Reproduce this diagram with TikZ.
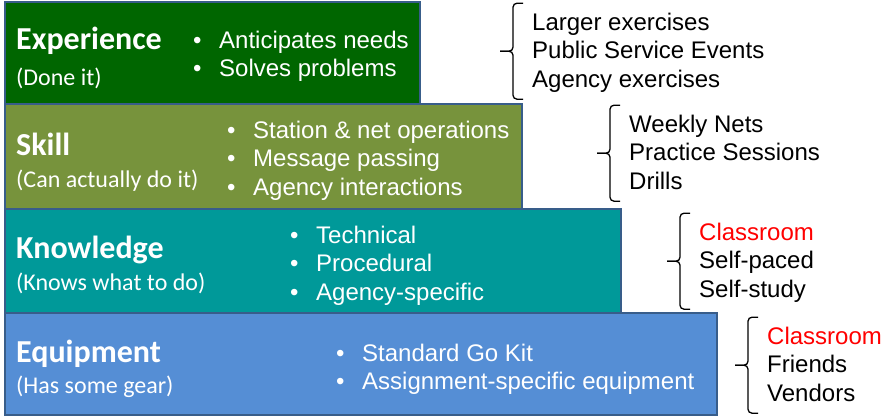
\documentclass[tikz,border=0pt]{standalone}
\usepackage{fontspec}
\setmainfont{Liberation Sans}
\newfontfamily\calibri{Carlito}
\usepackage{tikz}

\definecolor{expgreen}{RGB}{0,102,0}
\definecolor{skillgreen}{RGB}{119,147,60}
\definecolor{knowteal}{RGB}{0,153,153}
\definecolor{equipblue}{RGB}{85,142,213}
\definecolor{tierline}{RGB}{56,93,138}

\tikzset{
	tier/.style={draw=tierline, line width=1.5pt},
	title/.style={font=\calibri\bfseries\fontsize{32}{36}\selectfont, text=white, anchor=base west, inner sep=0pt},
	sub/.style={font=\calibri\fontsize{24}{28}\selectfont, text=white, anchor=base west, inner sep=0pt},
	items/.style={font=\fontsize{24}{28.6}\selectfont, align=left, anchor=north west, inner sep=0pt},
	curly/.style={line width=1.3pt, rounded corners=4pt}
}
\newcommand{\blt}{\strut\makebox[26pt][l]{\textbullet}}

\begin{document}
\begin{tikzpicture}[x=1pt,y=-1pt]
		\useasboundingbox (0,0) rectangle (886,418);
		% the four tiers
		\foreach \c/\r/\t/\b in {expgreen/420/2/104, skillgreen/522/104/209, knowteal/621/209/313, equipblue/717/313/415}
			\filldraw[tier, fill=\c] (5,\t) rectangle (\r,\b);

		\node[title] (exp) at (16,49) {Experience};
		\node[sub] (expsub) at (16,85) {(Done it)};
		\node[items, text=white] (expitems) at (193,28) {\blt Anticipates needs\\\blt Solves problems};

		\node[title] (skill) at (16,155) {Skill};
		\node[sub] (skillsub) at (16,187) {(Can actually do it)};
		\node[items, text=white] (skillitems) at (227,118) {\blt Station \& net operations\\\blt Message passing\\\blt Agency interactions};

		\node[title] (know) at (16,258) {Knowledge};
		\node[sub] (knowsub) at (16,290) {(Knows what to do)};
		\node[items, text=white] (knowitems) at (290,223) {\blt Technical\\\blt Procedural\\\blt Agency-specific};

		\node[title] (equip) at (16,362) {Equipment};
		\node[sub] (equipsub) at (16,393) {(Has some gear)};
		\node[items, text=white] (equipitems) at (336,341) {\blt Standard Go Kit\\\blt Assignment-specific equipment};

		% how each tier is reached
		\node[items] (exproute) at (532,10) {\strut Larger exercises\\\strut Public Service Events\\\strut Agency exercises};
		\node[items] (skillroute) at (629,112) {\strut Weekly Nets\\\strut Practice Sessions\\\strut Drills};
		\node[items] (knowroute) at (699,220) {\strut{\color{red}Classroom}\\\strut Self-paced\\\strut Self-study};
		\node[items] (equiproute) at (767,324) {\strut{\color{red}Classroom}\\\strut Friends\\\strut Vendors};

		\foreach \n in {exproute,skillroute,knowroute,equiproute} {
			\draw[curly] (\n.south west) ++(-9,3) -- ++(-10,0) -- ++(0,-48) -- ++(-13,0);
			\draw[curly] (\n.south west) ++(-9,-93) -- ++(-10,0) -- ++(0,48) -- ++(-13,0);
		}
	\end{tikzpicture}
\end{document}
